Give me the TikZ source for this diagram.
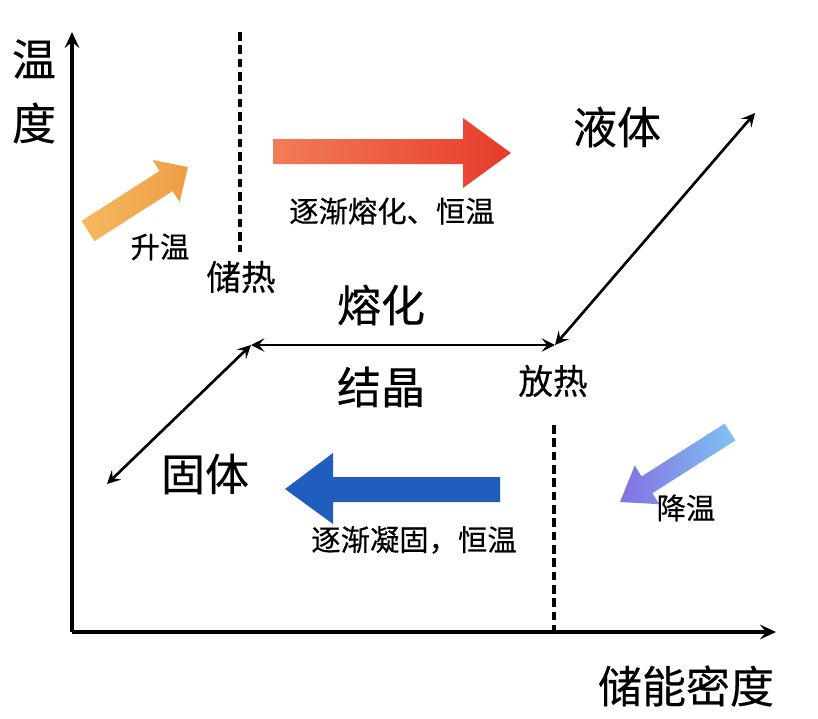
\documentclass[tikz,border=0pt]{standalone}
\usepackage{fontspec}
\setmainfont{Noto Sans CJK SC}[FakeBold=0.35]
\usetikzlibrary{arrows.meta}
\definecolor{orangeA}{HTML}{F4B862}
\definecolor{orangeB}{HTML}{EF9E44}
\definecolor{redA}{HTML}{F27C58}
\definecolor{redB}{HTML}{E63B2B}
\definecolor{blueA}{HTML}{1F5EBD}
\definecolor{purpA}{HTML}{8470E2}
\definecolor{purpB}{HTML}{7EC2F2}
\tikzset{
  axisline/.style={line width=2.6pt,-{Stealth[length=12pt,width=11pt,inset=4.5pt]}},
  dline/.style={line width=2pt,{Stealth[length=10pt,width=10pt,inset=4pt]}-{Stealth[length=10pt,width=10pt,inset=4pt]}},
  dashline/.style={line width=2.4pt,dash pattern=on 6.5pt off 3.5pt},
  big/.style={font=\fontsize{33}{36}\selectfont,inner sep=0pt},
  mid/.style={font=\fontsize{26}{30}\selectfont,inner sep=0pt},
  small/.style={font=\fontsize{22}{26}\selectfont,inner sep=0pt},
}
\begin{document}
\begin{tikzpicture}[x=0.75pt,y=-0.75pt]
\useasboundingbox (0,0) rectangle (818,718);
% axes
\coordinate (O) at (72,632);
\coordinate (Ytop) at (72,32);
\coordinate (Xend) at (776,632);
\draw[axisline] (O) -- (Ytop);
\draw[axisline] (O) -- (Xend);
\node[big] (wen) at (34,59) {温};
\node[big] (du) at (34,123) {度};
\node[big] (xaxis) at (686,686) {储能密度};
% dashed lines
\coordinate (d1a) at (240,32);
\coordinate (d1b) at (240,252);
\coordinate (d2a) at (554,425);
\coordinate (d2b) at (554,632);
\draw[dashline] (d1a) -- (d1b);
\draw[dashline] (d2a) -- (d2b);
% orange arrow (rising temperature)
\shade[left color=orangeA,right color=orangeB]
  (81.5,220.9) -- (159.6,170.9) -- (152.6,160.0) -- (188,167) -- (179.6,202.1) -- (172.6,191.1) -- (94.5,241.1) -- cycle;
\node[small] (shengwen) at (160,247) {升温};
\node[mid] (chure) at (241,277) {储热};
% red arrow
\shade[left color=redA,right color=redB]
  (273,139) -- (463,139) -- (463,118) -- (511,153) -- (463,188) -- (463,164) -- (273,164) -- cycle;
\node[small] (ronghua1) at (392,211) {逐渐熔化、恒温};
\node[big] (yeti) at (617,127) {液体};
% phase lines
\coordinate (A) at (107,484);
\coordinate (B) at (251,345);
\coordinate (C) at (555,345);
\coordinate (D) at (755,113);
\draw[dline] (A) -- (B);
\draw[dline] (B) -- (C);
\draw[dline] (C) -- (D);
\node[big] (ronghua) at (381,305) {熔化};
\node[big] (jiejing) at (381,387) {结晶};
\node[mid] (fangre) at (553,381) {放热};
\node[big] (guti) at (205,474) {固体};
% blue arrow
\fill[blueA]
  (500,477) -- (333,477) -- (333,453) -- (285,489) -- (333,524) -- (333,502) -- (500,502) -- cycle;
\node[small] (ninggu) at (414,540) {逐渐凝固，恒温};
% purple arrow (cooling)
\shade[left color=purpA,right color=purpB]
  (724.6,423.6) -- (641.6,476.4) -- (634.7,465.4) -- (620,502) -- (659.3,504.2) -- (652.4,493.2) -- (735.4,440.4) -- cycle;
\node[small] (jiangwen) at (686,508) {降温};
\end{tikzpicture}
\end{document}
